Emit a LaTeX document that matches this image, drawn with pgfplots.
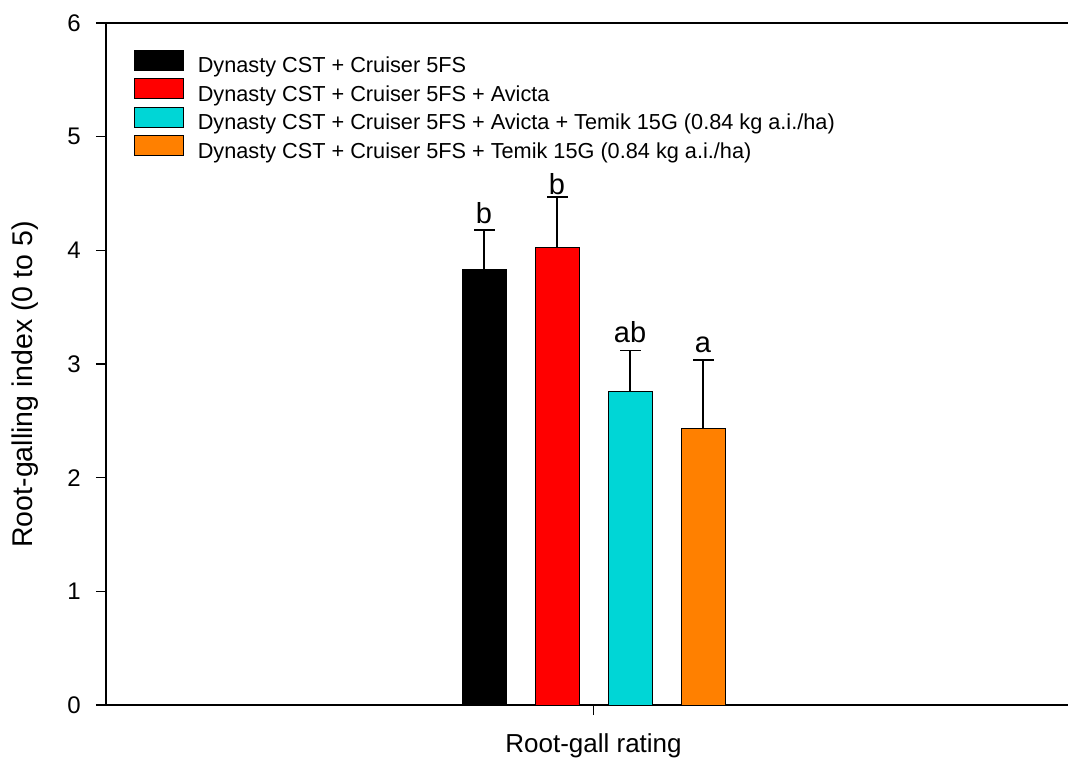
\documentclass[border=0pt]{standalone}
\usepackage{pgfplots}
\pgfplotsset{compat=1.18}
\usepackage{fontspec}
\setmainfont{Liberation Sans}
\definecolor{barcyan}{RGB}{0,214,214}
\definecolor{barorange}{RGB}{255,128,0}
\pgfplotsset{mybar/.style={ybar, bar width=44, bar shift=0pt, draw=black, line width=0.6pt,
   error bars/y dir=plus, error bars/y explicit, error bars/error mark=none,
   error bars/error bar style={line width=1.6pt, black}}}
\begin{document}
\begin{tikzpicture}
\useasboundingbox (-106pt,-53pt) rectangle (962pt,705pt);
\begin{axis}[
  at={(0pt,0pt)}, anchor=south west,
  scale only axis, width=962pt, height=682pt,
  xmin=0, xmax=962, ymin=0, ymax=6,
  enlargelimits=false, clip=false,
  axis x line*=box, axis y line*=left,
  axis line style={line width=1.8pt},
  xtick={487.5}, xticklabels={},
  xtick pos=bottom, ytick pos=left,
  ytick={0,1,2,3,4,5,6},
  tick align=outside, major tick length=10pt,
  tick style={line width=1.5pt, black},
  /pgf/number format/assume math mode=true,
  tick label style={font=\fontsize{24}{24}\selectfont},
  yticklabel style={inner sep=0pt, xshift=-15pt},
  xlabel={Root-gall rating},
  xlabel style={font=\fontsize{26}{26}\selectfont, at={(axis description cs:0.5068,0)}, anchor=base, yshift=-47pt},
  ylabel={Root-galling index (0 to 5)},
  ylabel style={font=\fontsize{28.5}{28.5}\selectfont, at={(axis description cs:-0.0759,0.47)}, anchor=base},
  legend image code/.code={\draw[#1, line width=0.8pt, draw=black] (0pt,-3.3pt) rectangle (49pt,16.7pt);},
  legend cell align=left,
  legend style={at={(axis description cs:0.0291,0.9604)}, anchor=north west, draw=none, fill=none,
     inner sep=0pt, outer sep=0pt, row sep=2.1pt,
     font=\fontsize{21.7}{21.7}\selectfont,
     nodes={inner sep=0pt, text height=15pt, text depth=3.3pt},
     /tikz/every odd column/.append style={column sep=14pt}},
]
\addplot[mybar, fill=black] coordinates {(378,3.836) +- (0,0.344)};
\addlegendentry{Dynasty CST + Cruiser 5FS}
\addplot[mybar, fill=red] coordinates {(451,4.030) +- (0,0.440)};
\addlegendentry{Dynasty CST + Cruiser 5FS + Avicta}
\addplot[mybar, fill=barcyan] coordinates {(524,2.762) +- (0,0.358)};
\addlegendentry{Dynasty CST + Cruiser 5FS + Avicta + Temik 15G (0.84 kg a.i./ha)}
\addplot[mybar, fill=barorange] coordinates {(597,2.437) +- (0,0.598)};
\addlegendentry{Dynasty CST + Cruiser 5FS + Temik 15G (0.84 kg a.i./ha)}
% error bar caps (mean + error)
\addplot[forget plot, only marks, mark=-, mark size=10.5pt, mark options={line width=1.6pt, black}]
  coordinates {(378,4.180) (451,4.470) (524,3.120) (597,3.035)};
\node[anchor=base, font=\fontsize{29}{29}\selectfont, inner sep=0pt] at (axis cs:378,4.24) {b};
\node[anchor=base, font=\fontsize{29}{29}\selectfont, inner sep=0pt] at (axis cs:451,4.487) {b};
\node[anchor=base, font=\fontsize{29}{29}\selectfont, inner sep=0pt] at (axis cs:524,3.19) {ab};
\node[anchor=base, font=\fontsize{29}{29}\selectfont, inner sep=0pt] at (axis cs:597,3.097) {a};
\end{axis}
\end{tikzpicture}
\end{document}
